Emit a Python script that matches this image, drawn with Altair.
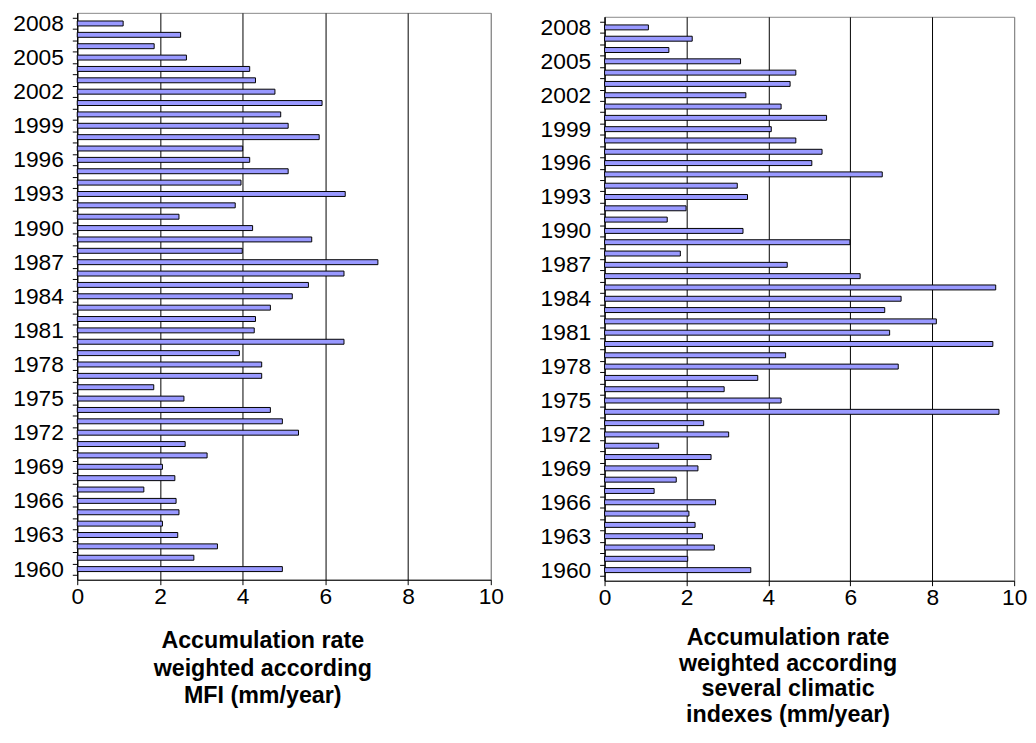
import altair as alt
import pandas as pd

years = list(range(2008, 1959, -1))

mfi = [1.11, 2.50, 1.86, 2.64, 4.17, 4.31, 4.78, 5.92, 4.92, 5.10,
       5.85, 4.00, 4.17, 5.10, 3.96, 6.48, 3.82, 2.46, 4.24, 5.67,
       3.99, 7.27, 6.45, 5.59, 5.20, 4.67, 4.31, 4.28, 6.45, 3.92,
       4.46, 4.46, 1.85, 2.58, 4.67, 4.96, 5.35, 2.61, 3.14, 2.06,
       2.36, 1.61, 2.39, 2.46, 2.06, 2.43, 3.39, 2.82, 4.96]

climatic = [1.07, 2.14, 1.57, 3.32, 4.67, 4.53, 3.45, 4.31, 5.42, 4.07,
            4.67, 5.31, 5.06, 6.78, 3.24, 3.49, 1.99, 1.53, 3.38, 5.99,
            1.85, 4.46, 6.24, 9.55, 7.24, 6.84, 8.10, 6.96, 9.48, 4.42,
            7.17, 3.74, 2.92, 4.31, 9.63, 2.42, 3.03, 1.32, 2.60, 2.28,
            1.75, 1.21, 2.71, 2.06, 2.21, 2.39, 2.68, 2.03, 3.57]

label_years = list(range(1960, 2009, 3))
boundary_years = [y + 0.5 for y in range(1959, 2009)]
x_ticks = [0, 2, 4, 6, 8, 10]

title_left = ["Accumulation rate", "weighted according", "MFI (mm/year)"]
title_right = ["Accumulation rate", "weighted according", "several climatic", "indexes (mm/year)"]

df = pd.DataFrame({"year": years, "mfi": mfi, "climatic": climatic})

FONT = "Liberation Sans"


def panel(field, title_lines, width, height, title_y, line_height):
    yscale = alt.Scale(domain=[1959.5, 2008.5], nice=False, zero=False)
    xscale = alt.Scale(domain=[0, 10], nice=False)
    label_axis = alt.Axis(
        orient="left",
        values=label_years,
        format="d",
        tickSize=0,
        labelPadding=14,
        labelFontSize=23,
        labelFont=FONT,
        labelColor="black",
        domainColor="black",
        grid=False,
        title=None,
        labelOverlap=False,
        labelFlush=False,
        labelBound=False,
    )
    tick_axis = alt.Axis(
        orient="left",
        values=boundary_years,
        labels=False,
        tickSize=5,
        tickColor="black",
        domain=False,
        grid=False,
        title=None,
    )
    xaxis = alt.Axis(
        values=x_ticks,
        grid=True,
        gridColor={"condition": {"test": "datum.value == 10", "value": "#888888"}, "value": "black"},
        gridOpacity=1,
        tickSize=5,
        tickColor="black",
        domainColor="black",
        labelFontSize=23,
        labelFont=FONT,
        labelColor="black",
        labelPadding=1,
        labelFlush=False,
        title=title_lines,
        titleFont=FONT,
        titleFontSize=23.5,
        titleFontWeight="bold",
        titleColor="black",
        titleLineHeight=line_height,
        titleBaseline="alphabetic",
        titleAlign="center",
        titleX=width / 2 - 22,
        titleY=title_y,
    )
    base = alt.Chart(df)
    bars = base.mark_bar(
        orient="horizontal", size=5, color="#9999FF", stroke="black", strokeWidth=1
    ).encode(
        x=alt.X(f"{field}:Q", scale=xscale, axis=xaxis),
        y=alt.Y("year:Q", scale=yscale, axis=label_axis),
    )
    ticks = base.mark_bar(orient="horizontal", size=5, opacity=0).encode(
        x=alt.X(f"{field}:Q", scale=xscale, axis=xaxis),
        y=alt.Y("year:Q", scale=yscale, axis=tick_axis),
    )
    return alt.layer(bars, ticks).resolve_axis(y="independent").properties(
        width=width, height=height
    )


left = panel("mfi", title_left, 418, 573, 69, 27.5)
right_panel = panel("climatic", title_right, 414, 570, 64.5, 25.8)
spacer = alt.Chart(df).mark_point(opacity=0, size=0).encode(
    x=alt.value(0), y=alt.value(0)
).properties(width=414, height=1, view=alt.ViewBackground(strokeOpacity=0))
right = alt.vconcat(spacer, right_panel, spacing=2)

chart = alt.hconcat(left, right, spacing=35).properties(
    padding={"left": 4, "right": 0, "top": 0, "bottom": 0}
).configure(font=FONT).configure_view(
    stroke="#888888", strokeWidth=1
)

chart.save("out.html", embed_options={"renderer": "svg", "actions": False})
